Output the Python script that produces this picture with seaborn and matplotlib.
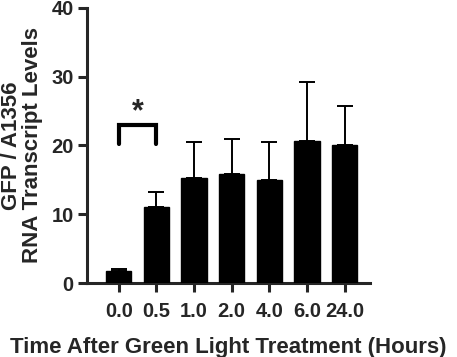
import numpy as np
import pandas as pd
import matplotlib
matplotlib.use('Agg')
import matplotlib.pyplot as plt
import seaborn as sns

sns.set_style('ticks')
plt.rcParams['font.family'] = ['Liberation Sans', 'DejaVu Sans']
plt.rcParams['font.weight'] = 'bold'

# values
time_labels = ['0.0', '0.5', '1.0', '2.0', '4.0', '6.0', '24.0']
mean_levels = [1.75, 11.0, 15.3, 15.9, 15.0, 20.7, 20.1]
sd_upper = [0.3, 2.3, 5.2, 5.1, 5.5, 8.5, 5.6]

df = pd.DataFrame({'Time': time_labels, 'Level': mean_levels, 'SD': sd_upper})

fig = plt.figure(figsize=(4.57, 3.57), dpi=100)
ax = fig.add_axes([0.19, 0.207, 0.62, 0.771])

sns.barplot(x='Time', y='Level', data=df, color='black', width=0.67,
            errorbar=None, ax=ax, saturation=1, edgecolor='black', zorder=3)
xs = np.arange(len(time_labels))
ax.errorbar(xs, df['Level'], yerr=[np.zeros(len(xs)), df['SD']],
            fmt='none', ecolor='black', elinewidth=1.4, capsize=6,
            capthick=1.4, zorder=2)

# significance bracket between 0.0 and 0.5
ax.plot([0, 0, 1, 1], [20.2, 23.0, 23.0, 20.2], color='black', lw=3,
        solid_joinstyle='miter', clip_on=False)
ax.text(0.5, 22.7, '*', ha='center', va='bottom', fontsize=22, fontweight='bold')

ax.set_ylim(0, 40)
ax.set_yticks([0, 10, 20, 30, 40])
ax.set_xlim(-0.85, 6.68)
sns.despine(ax=ax)
for side in ['left', 'bottom']:
    ax.spines[side].set_linewidth(2.2)
ax.tick_params(axis='both', width=2.2, length=6.5, labelsize=14.5)
ax.tick_params(axis='x', pad=7)
ax.tick_params(axis='y', pad=3)
for lbl in ax.get_xticklabels() + ax.get_yticklabels():
    lbl.set_fontweight('bold')

ax.set_xlabel('Time After Green Light Treatment (Hours)', fontsize=16,
              fontweight='bold', labelpad=11.5)
ax.set_ylabel('GFP / A1356\nRNA Transcript Levels', fontsize=16,
              fontweight='bold', labelpad=6, linespacing=1.0)

fig.savefig('out.png', dpi=100)
